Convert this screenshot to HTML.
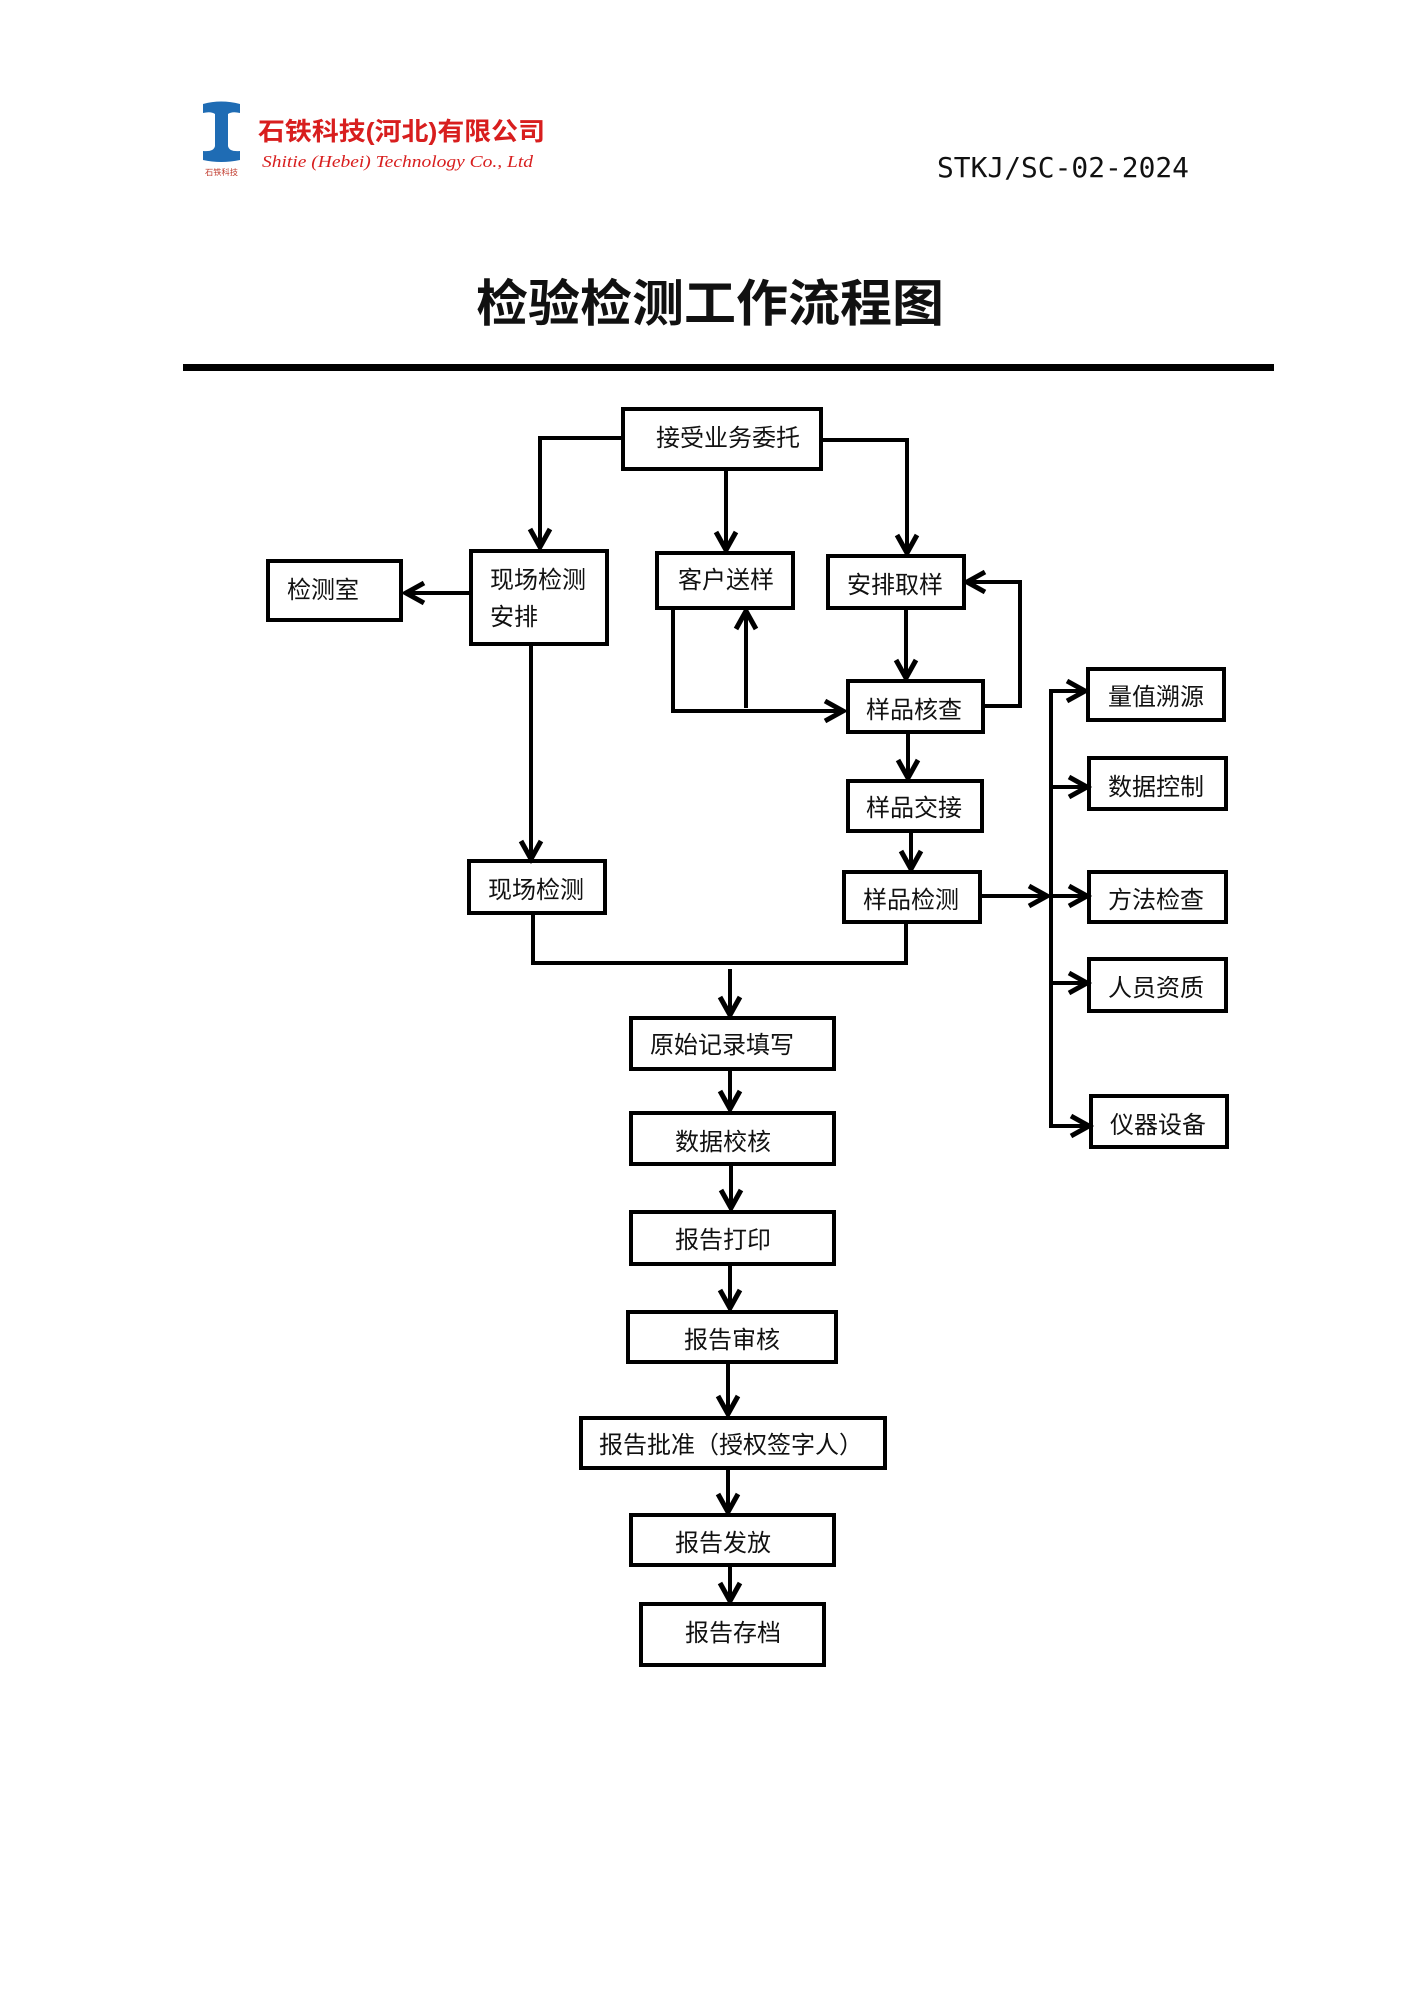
<!DOCTYPE html>
<html>
<head>
<meta charset="utf-8">
<style>
  html,body{margin:0;padding:0;background:#fff;}
  svg{display:block;}
  .lbl{font-family:"Liberation Sans","Noto Sans CJK SC",sans-serif;font-size:24px;fill:#111;}
</style>
</head>
<body>
<svg width="1423" height="2000" viewBox="0 0 1423 2000" xmlns="http://www.w3.org/2000/svg">
  <rect x="0" y="0" width="1423" height="2000" fill="#fff"/>

  <!-- Logo -->
  <g fill="#1f6cb4">
    <path d="M203,104 Q221,99 240,104 L240,113 Q232,111 228,114 L228,146 Q229,152 240,151 L240,160 Q221,164 203,160 L203,151 Q214,152 215,146 L215,114 Q211,111 203,113 Z"/>
  </g>
  <text x="205" y="175" font-family="'Liberation Sans','Noto Sans CJK SC',sans-serif" font-size="8" fill="#c0392b" textLength="33" lengthAdjust="spacingAndGlyphs">石铁科技</text>
  <text x="258" y="140" font-family="'Liberation Sans','Noto Sans CJK SC',sans-serif" font-size="25" font-weight="bold" fill="#d81e1e" textLength="287" lengthAdjust="spacingAndGlyphs">石铁科技(河北)有限公司</text>
  <text x="262" y="167" font-family="'Liberation Serif',serif" font-style="italic" font-size="17" fill="#d81e1e" textLength="271" lengthAdjust="spacingAndGlyphs">Shitie (Hebei) Technology Co., Ltd</text>

  <!-- Code -->
  <text x="937" y="177" font-family="'DejaVu Sans Mono','Liberation Mono',monospace" font-size="28" fill="#111" textLength="252" lengthAdjust="spacingAndGlyphs">STKJ/SC-02-2024</text>

  <!-- Title -->
  <text x="476" y="321" font-family="'Liberation Sans','Noto Sans CJK SC',sans-serif" font-size="50" font-weight="bold" fill="#111" textLength="468" lengthAdjust="spacingAndGlyphs">检验检测工作流程图</text>

  <!-- Rule -->
  <rect x="183" y="364" width="1091" height="7" fill="#000"/>

  <!-- Boxes -->
  <g fill="none" stroke="#000" stroke-width="4">
    <rect x="623" y="409" width="198" height="60"/>
    <rect x="268" y="561" width="133" height="59"/>
    <rect x="471" y="551" width="136" height="93"/>
    <rect x="657" y="553" width="136" height="55"/>
    <rect x="828" y="556" width="136" height="52"/>
    <rect x="848" y="681" width="135" height="51"/>
    <rect x="848" y="781" width="134" height="50"/>
    <rect x="844" y="872" width="136" height="50"/>
    <rect x="469" y="861" width="136" height="52"/>
    <rect x="1088" y="669" width="136" height="51"/>
    <rect x="1089" y="758" width="137" height="51"/>
    <rect x="1089" y="872" width="137" height="50"/>
    <rect x="1089" y="959" width="137" height="52"/>
    <rect x="1091" y="1096" width="136" height="51"/>
    <rect x="631" y="1018" width="203" height="51"/>
    <rect x="631" y="1113" width="203" height="51"/>
    <rect x="631" y="1212" width="203" height="52"/>
    <rect x="628" y="1312" width="208" height="50"/>
    <rect x="581" y="1418" width="304" height="50"/>
    <rect x="631" y="1515" width="203" height="50"/>
    <rect x="641" y="1604" width="183" height="61"/>
  </g>

  <!-- Connector lines -->
  <g fill="none" stroke="#000" stroke-width="4" stroke-linejoin="miter" stroke-linecap="square">
    <path d="M621,438 H540 V544"/>
    <path d="M726,471 V547"/>
    <path d="M823,440 H907 V550"/>
    <path d="M469,593 H409"/>
    <path d="M531,646 V856"/>
    <path d="M673,610 V711 H840"/>
    <path d="M746,706 V614"/>
    <path d="M906,610 V675"/>
    <path d="M985,706 H1020 V582 H970"/>
    <path d="M908,734 V775"/>
    <path d="M911,833 V866"/>
    <path d="M982,896 H1044"/>
    <path d="M1051,691 V1126"/>
    <path d="M1051,691 H1082"/>
    <path d="M1051,787 H1084"/>
    <path d="M1051,896 H1084"/>
    <path d="M1051,983 H1084"/>
    <path d="M1051,1126 H1086"/>
    <path d="M533,915 V963 H906 V924"/>
    <path d="M730,971 V1012"/>
    <path d="M730,1071 V1106"/>
    <path d="M731,1166 V1205"/>
    <path d="M730,1266 V1305"/>
    <path d="M728,1364 V1411"/>
    <path d="M728,1470 V1509"/>
    <path d="M730,1567 V1598"/>
  </g>

  <!-- Arrowheads (open chevrons) -->
  <g fill="none" stroke="#000" stroke-width="5" stroke-linejoin="miter" stroke-linecap="butt">
    <!-- down -->
    <polyline points="530,529 540,547 550,529"/>
    <polyline points="716,532 726,550 736,532"/>
    <polyline points="897,535 907,553 917,535"/>
    <polyline points="521,841 531,859 541,841"/>
    <polyline points="896,660 906,678 916,660"/>
    <polyline points="898,760 908,778 918,760"/>
    <polyline points="901,851 911,869 921,851"/>
    <polyline points="720,997 730,1015 740,997"/>
    <polyline points="720,1091 730,1109 740,1091"/>
    <polyline points="721,1190 731,1208 741,1190"/>
    <polyline points="720,1290 730,1308 740,1290"/>
    <polyline points="718,1396 728,1414 738,1396"/>
    <polyline points="718,1494 728,1512 738,1494"/>
    <polyline points="720,1583 730,1601 740,1583"/>
    <!-- up -->
    <polyline points="736,629 746,611 756,629"/>
    <!-- left -->
    <polyline points="424,583 406,593 424,603"/>
    <polyline points="985,572 967,582 985,592"/>
    <!-- right -->
    <polyline points="825,701 843,711 825,721"/>
    <polyline points="1029,886 1047,896 1029,906"/>
    <polyline points="1067,681 1085,691 1067,701"/>
    <polyline points="1069,777 1087,787 1069,797"/>
    <polyline points="1069,886 1087,896 1069,906"/>
    <polyline points="1069,973 1087,983 1069,993"/>
    <polyline points="1071,1116 1089,1126 1071,1136"/>
  </g>

  <!-- Labels -->
  <g class="lbl">
    <text x="656" y="446">接受业务委托</text>
    <text x="287" y="598">检测室</text>
    <text x="490" y="588">现场检测</text>
    <text x="490" y="625">安排</text>
    <text x="678" y="588">客户送样</text>
    <text x="847" y="593">安排取样</text>
    <text x="866" y="718">样品核查</text>
    <text x="866" y="816">样品交接</text>
    <text x="863" y="908">样品检测</text>
    <text x="1108" y="705">量值溯源</text>
    <text x="1108" y="795">数据控制</text>
    <text x="1108" y="908">方法检查</text>
    <text x="1108" y="996">人员资质</text>
    <text x="1110" y="1133">仪器设备</text>
    <text x="488" y="898">现场检测</text>
    <text x="650" y="1053">原始记录填写</text>
    <text x="675" y="1150">数据校核</text>
    <text x="675" y="1248">报告打印</text>
    <text x="684" y="1348">报告审核</text>
    <text x="599" y="1453">报告批准（授权签字人）</text>
    <text x="675" y="1551">报告发放</text>
    <text x="685" y="1641">报告存档</text>
  </g>
</svg>
</body>
</html>
